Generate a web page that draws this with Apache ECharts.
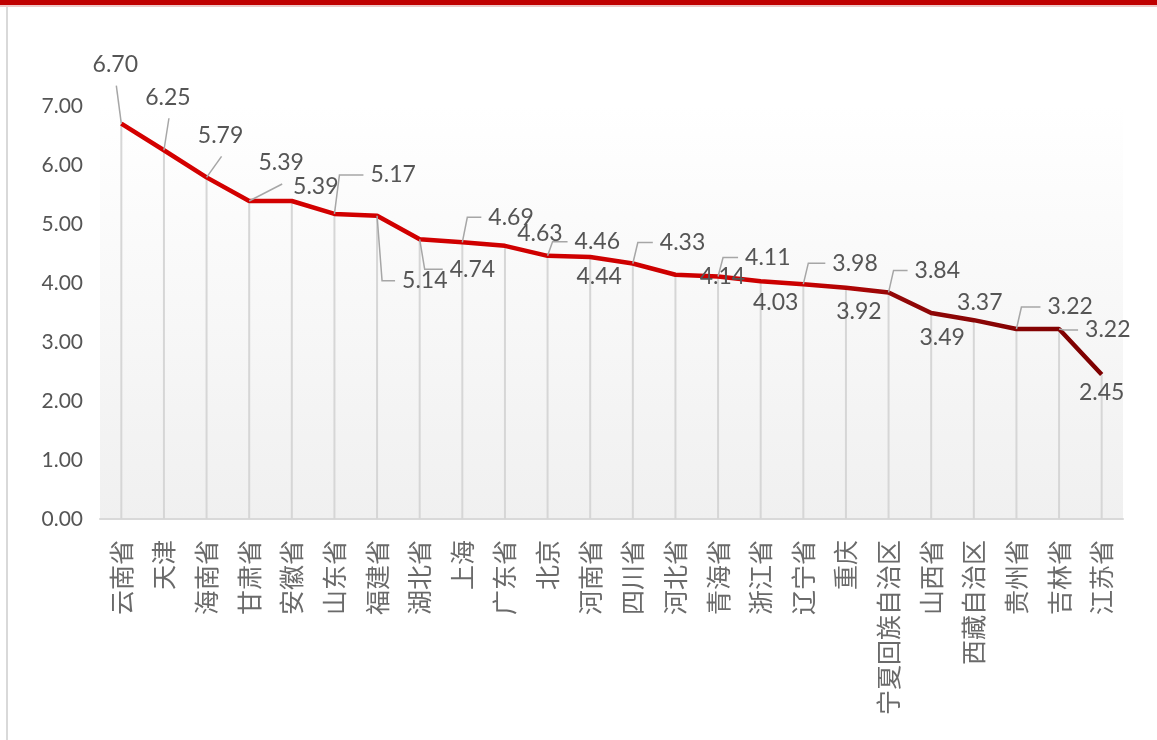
<!DOCTYPE html>
<html><head><meta charset="utf-8">
<script src="https://cdn.jsdelivr.net/npm/echarts@6/dist/echarts.min.js"></script>
<style>html,body{margin:0;padding:0;background:#fff}#c{width:1157px;height:740px}</style>
</head><body><div id="c"></div>
<script>
const categories = ['云南省','天津','海南省','甘肃省','安徽省','山东省','福建省','湖北省','上海','广东省','北京','河南省','四川省','河北省','青海省','浙江省','辽宁省','重庆','宁夏回族自治区','山西省','西藏自治区','贵州省','吉林省','江苏省'];
const values = [6.70,6.25,5.79,5.39,5.39,5.17,5.14,4.74,4.69,4.63,4.46,4.44,4.33,4.14,4.11,4.03,3.98,3.92,3.84,3.49,3.37,3.22,3.22,2.45];
const yMin = 0, yMax = 7, yInterval = 1;

// label placement relative to each point: [leader type, dx, dy]
// 'v' = straight leader below label, 'e' = elbow leader to label's left edge, 'n' = no leader
const labelPlacement = [
 ['v',-6,-59],['v',4,-53],['v',14,-42],['v',32,-38],['n',24,-14],['e',36,-39],['e',25,65],['e',30,30],
 ['e',26,-25],['n',35,-12],['e',27,-14],['n',9,20],['e',27,-21],['n',47,2],['e',27,-19],['n',15,21],
 ['e',29,-21],['n',13,24],['e',26,-22],['n',11,24],['n',6,-18],['e',31,-22],['e',26,1],['n',0,18]
];

const chart = echarts.init(document.getElementById('c'), null, {renderer:'canvas'});
const leaderStyle = {stroke:'#a6a6a6', lineWidth:1.5, fill:'none'};

chart.setOption({
  animation:false,
  backgroundColor:'#ffffff',
  graphic:[
    {type:'rect', left:0, top:0, shape:{width:1157, height:5}, style:{fill:'#c00000'}, z:10},
    {type:'rect', left:0, top:5, shape:{width:1157, height:2}, style:{fill:'#eec8c8'}, z:10},
    {type:'rect', left:6, top:7, shape:{width:2, height:733}, style:{fill:'#d9d9d9'}, z:10}
  ],
  grid:{left:100, right:34, top:106, bottom:221, show:true, borderWidth:0,
    backgroundColor:{type:'linear', x:0, y:0, x2:0, y2:1, colorStops:[{offset:0,color:'#ffffff'},{offset:1,color:'#f0f0f0'}]}},
  xAxis:{type:'category', data:categories, boundaryGap:true,
    axisLine:{show:true, lineStyle:{color:'#d9d9d9', width:2}},
    axisTick:{show:false},
    axisLabel:{rotate:90, margin:21, interval:0, fontFamily:'Noto Sans CJK SC', fontSize:25, color:'#6a6a6a'}},
  yAxis:{type:'value', min:yMin, max:yMax, interval:yInterval,
    axisLine:{show:false}, axisTick:{show:false}, splitLine:{show:false},
    axisLabel:{margin:17, fontFamily:'Lato', fontSize:21, color:'#555555', formatter:v=>v.toFixed(2)}},
  series:[
    {type:'bar', data:values, barWidth:2, itemStyle:{color:'#d6d6d6'}, z:1, silent:true},
    {type:'line', data:values, symbol:'none', z:3,
      lineStyle:{width:4.5, color:{type:'linear', x:0, y:0, x2:1, y2:0, colorStops:[
        {offset:0,color:'#d40000'},{offset:0.69,color:'#cc0000'},{offset:0.79,color:'#920808'},{offset:1,color:'#7d0000'}]}}},
    {type:'custom', z:4, data:values.map((v,i)=>[i,v]),
      renderItem:function(params, api){
        const i = api.value(0), v = api.value(1);
        const p = api.coord([i, v]);
        const pl = labelPlacement[params.dataIndex];
        const t = pl[0], tx = p[0]+pl[1], ty = p[1]+pl[2];
        const children = [];
        let align = 'center';
        if (t === 'v') children.push({type:'polyline', shape:{points:[p,[tx+1, ty+21]]}, style:leaderStyle});
        if (t === 'e') { align = 'left'; children.push({type:'polyline', shape:{points:[p,[p[0]+5, ty],[tx-7, ty]]}, style:leaderStyle}); }
        children.push({type:'text', x:tx, y:ty, style:{text:v.toFixed(2), align:align, verticalAlign:'middle', font:'23px Lato', fill:'#555555'}});
        return {type:'group', children:children};
      }}
  ]
});
</script></body></html>
